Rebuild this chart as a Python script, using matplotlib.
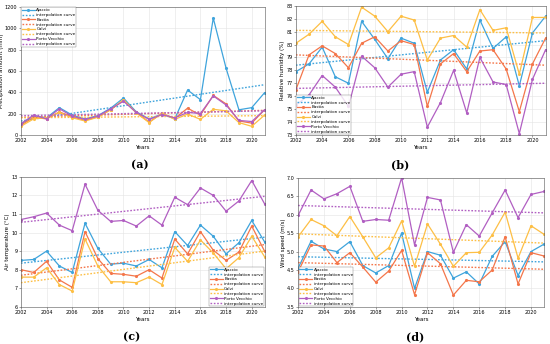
import numpy as np
import matplotlib
matplotlib.use("Agg")
import matplotlib.pyplot as plt

years = list(range(2002, 2022))
stations = ["Ajaccio", "Bastia", "Calvi", "Porto Vecchio"]
colors = ["#3FA4DC", "#F4764A", "#FDBF45", "#B15FC2"]

# (a) precipitation amount (mm)
prec_ajaccio = [100, 180, 160, 255, 185, 150, 180, 250, 345, 215, 150, 195, 150, 420, 330, 1095, 625, 235, 255, 395]
prec_bastia = [90, 165, 150, 215, 170, 135, 170, 235, 325, 210, 120, 200, 155, 250, 185, 370, 290, 130, 110, 235]
prec_calvi = [80, 150, 160, 210, 160, 130, 165, 235, 330, 205, 115, 205, 145, 195, 145, 240, 225, 115, 80, 185]
prec_porto = [105, 185, 150, 245, 175, 145, 175, 245, 315, 210, 145, 190, 160, 210, 200, 365, 280, 135, 125, 235]
prec_trend = [(130, 470), (165, 230), (160, 180), (180, 225)]

# (b) relative humidity (%)
hum_ajaccio = [77.9, 78.5, 79.8, 77.5, 77.0, 81.8, 80.4, 78.9, 80.5, 80.1, 76.3, 78.8, 79.6, 78.1, 81.9, 79.7, 80.6, 76.8, 80.9, 82.2]
hum_bastia = [76.5, 79.2, 79.9, 79.3, 78.2, 80.1, 80.6, 79.5, 80.3, 80.0, 75.2, 78.5, 79.3, 77.9, 79.5, 79.6, 78.1, 74.8, 78.5, 80.5]
hum_calvi = [80.1, 80.8, 81.8, 80.6, 80.0, 82.9, 82.2, 81.0, 82.2, 81.9, 78.8, 80.5, 80.7, 79.8, 82.7, 81.1, 81.3, 77.7, 82.1, 82.1]
hum_porto = [75.3, 76.1, 77.6, 76.7, 75.2, 79.1, 78.2, 76.7, 77.7, 77.9, 73.6, 75.5, 78.0, 74.7, 79.0, 77.1, 76.9, 73.1, 77.3, 79.6]
hum_trend = [(78.4, 80.3), (79.2, 78.4), (81.1, 80.9), (76.6, 77.0)]

# (c) air temperature (°C)
temp_ajaccio = [8.5, 8.55, 9.0, 8.2, 7.85, 10.5, 9.15, 8.3, 8.35, 8.2, 8.55, 8.1, 10.05, 9.3, 10.4, 9.8, 8.85, 9.45, 10.65, 9.5]
temp_bastia = [8.0, 7.85, 8.45, 7.45, 7.05, 10.05, 8.6, 7.8, 7.75, 7.65, 8.0, 7.55, 9.65, 8.85, 10.05, 9.05, 8.5, 8.95, 10.35, 9.0]
temp_calvi = [7.6, 7.6, 8.1, 7.2, 6.85, 9.65, 8.2, 7.35, 7.35, 7.3, 7.6, 7.2, 9.2, 8.45, 9.6, 8.9, 8.05, 8.65, 9.8, 8.7]
temp_porto = [10.7, 10.85, 11.05, 10.4, 10.1, 12.6, 11.2, 10.6, 10.65, 10.35, 10.9, 10.4, 11.9, 11.5, 12.4, 12.0, 11.15, 11.7, 12.8, 11.55]
temp_trend = [(8.35, 9.75), (7.7, 9.35), (7.3, 9.0), (10.55, 11.95)]

# (d) wind speed (m/s)
wind_ajaccio = [4.55, 5.28, 5.07, 5.0, 5.27, 4.62, 4.42, 4.62, 5.5, 4.0, 5.0, 4.9, 4.28, 4.45, 4.12, 4.87, 5.27, 4.35, 5.0, 5.2]
wind_bastia = [4.45, 5.18, 5.15, 4.7, 4.97, 4.58, 4.17, 4.47, 5.03, 3.83, 4.97, 4.67, 3.82, 4.22, 4.18, 4.5, 5.4, 4.12, 4.97, 4.88]
wind_calvi = [5.4, 5.87, 5.7, 5.43, 5.95, 5.4, 4.83, 5.1, 5.83, 4.6, 5.75, 5.2, 4.6, 4.97, 4.98, 5.45, 6.07, 4.82, 5.7, 5.47]
wind_porto = [5.98, 6.67, 6.43, 6.57, 6.77, 5.82, 5.87, 5.85, 7.0, 5.18, 6.47, 6.4, 4.98, 5.73, 5.42, 6.05, 6.67, 5.92, 6.55, 6.63]
wind_trend = [(4.86, 4.72), (4.7, 4.52), (5.48, 5.23), (6.25, 6.05)]

panels = [
    ([prec_ajaccio, prec_bastia, prec_calvi, prec_porto], prec_trend,
     "Precipitation amount (mm)", (0, 1200), np.arange(0, 1201, 200), "upper left", "(a)"),
    ([hum_ajaccio, hum_bastia, hum_calvi, hum_porto], hum_trend,
     "Relative humidity (%)", (73, 83), np.arange(73, 84, 1), "lower left", "(b)"),
    ([temp_ajaccio, temp_bastia, temp_calvi, temp_porto], temp_trend,
     "Air temperature (°C)", (6, 13), np.arange(6, 14, 1), "lower right", "(c)"),
    ([wind_ajaccio, wind_bastia, wind_calvi, wind_porto], wind_trend,
     "Wind speed (m/s)", (3.5, 7), np.arange(3.5, 7.01, 0.5), "lower left", "(d)"),
]

positions = [
    [0.038, 0.608, 0.443, 0.372],
    [0.538, 0.608, 0.454, 0.375],
    [0.038, 0.108, 0.443, 0.378],
    [0.542, 0.108, 0.447, 0.375],
]
label_xy = [(0.255, 0.522), (0.727, 0.522), (0.24, 0.022), (0.755, 0.022)]

fig = plt.figure(figsize=(5.5, 3.44), dpi=100)

for (series, trends, ylabel, ylim, yticks, loc, tag), pos, lxy in zip(panels, positions, label_xy):
    ax = fig.add_axes(pos)
    for name, vals, tr, c in zip(stations, series, trends, colors):
        ax.plot(years, vals, color=c, lw=0.9, marker=".", ms=2.5, label=name)
        ax.plot([years[0], years[-1]], tr, color=c, lw=1.0, ls=(0, (1.2, 1.2)),
                label="interpolation curve")
    ax.set_xlim(2002, 2021)
    ax.set_ylim(*ylim)
    ax.set_xticks(range(2002, 2021, 2))
    ax.set_yticks(yticks)
    ax.tick_params(labelsize=3.5, length=1.5, width=0.4, pad=1, color="#555555")
    ax.set_xlabel("Years", fontsize=4, labelpad=1)
    ax.set_ylabel(ylabel, fontsize=4, labelpad=0.8)
    ax.grid(True, color="#e3e3e3", lw=0.4)
    for s in ax.spines.values():
        s.set_color("#555555")
        s.set_linewidth(0.4)
    leg = ax.legend(loc=loc, fontsize=3, frameon=True, fancybox=False,
                    handlelength=3, borderpad=0.2, labelspacing=0.2,
                    handletextpad=0.4, borderaxespad=0.1)
    leg.get_frame().set_linewidth(0.3)
    leg.get_frame().set_edgecolor("#555555")
    fig.text(lxy[0], lxy[1], tag, ha="center", va="center", fontsize=8,
             fontweight="bold", family="DejaVu Serif")

fig.savefig("out.png", dpi=100)
